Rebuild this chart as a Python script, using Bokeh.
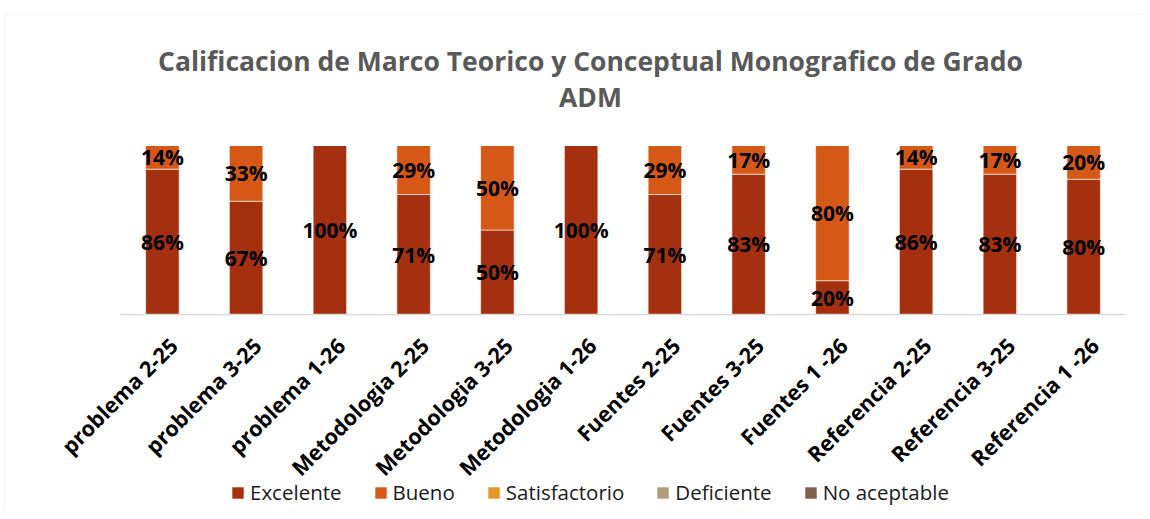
import math
from bokeh.plotting import figure
from bokeh.models import (ColumnDataSource, Legend, LegendItem, Range1d, Label, BoxAnnotation)
from bokeh.core.properties import value
from bokeh.embed import file_html
from bokeh.resources import INLINE

# ---------------- data ----------------
categories = ["problema 2-25", "problema 3-25", "problema 1-26",
              "Metodologia 2-25", "Metodologia 3-25", "Metodologia 1-26",
              "Fuentes 2-25", "Fuentes 3-25", "Fuentes 1 -26",
              "Referencia 2-25", "Referencia 3-25", "Referencia 1 -26"]
series = ["Excelente", "Bueno", "Satisfactorio", "Deficiente", "No aceptable"]
excelente = [86, 67, 100, 71, 50, 100, 71, 83, 20, 86, 83, 80]
bueno = [14, 33, 0, 29, 50, 0, 29, 17, 80, 14, 17, 20]
satisfactorio = [0, 0, 0, 0, 0, 0, 0, 0, 0, 0, 0, 0]
deficiente = [0, 0, 0, 0, 0, 0, 0, 0, 0, 0, 0, 0]
no_aceptable = [0, 0, 0, 0, 0, 0, 0, 0, 0, 0, 0, 0]
colors = ["#A5300F", "#D55816", "#E19825", "#B19C7D", "#7F5F52"]
title_lines = ["Calificacion de Marco Teorico y Conceptual Monografico de Grado", "ADM"]

values_by_series = [excelente, bueno, satisfactorio, deficiente, no_aceptable]

FONT = "Open Sans"
W, H = 1142, 511
# plot area (in canvas pixels)
PX0, PX1 = 120, 1125      # category band
PY_TOP, PY_ZERO = 145, 314  # 100 % and 0 %
n = len(categories)
px_per_cat = (PX1 - PX0) / n
px_per_pct = (PY_ZERO - PY_TOP) / 100.0

x_start = -PX0 / px_per_cat
x_end = x_start + W / px_per_cat
y_start = -(H - PY_ZERO) / px_per_pct
y_end = 100 + PY_TOP / px_per_pct

p = figure(width=W, height=H,
           x_range=Range1d(x_start, x_end), y_range=Range1d(y_start, y_end),
           x_axis_location=None, y_axis_location=None,
           output_backend="svg", toolbar_location=None,
           min_border=0)
p.xgrid.visible = False
p.ygrid.visible = False
p.outline_line_color = None

xs = [i + 0.5 for i in range(n)]
src = ColumnDataSource(dict(x=xs, cat=categories,
                            **{s: v for s, v in zip(series, values_by_series)}))
rends = p.vbar_stack(series, x="x", width=0.4, color=colors, source=src,
                     line_color="white", line_width=0.6)

# axis line
p.segment(x0=[0], x1=[n], y0=[0], y1=[0], line_color="#D9D9D9", line_width=1.5)

# category labels (rotated 45 degrees)
p.text(x="x", y=0, text="cat", source=src, angle=math.pi / 4,
       text_font=value(FONT), text_font_style="bold", text_font_size="21.5px",
       text_color="black", text_align="right", text_baseline="middle",
       x_offset=11, y_offset=27)

# data labels
lx, ly, lt = [], [], []
for i in range(n):
    base = 0
    for vals in values_by_series:
        v = vals[i]
        if v > 0:
            lx.append(xs[i])
            ly.append(base + v / 2)
            lt.append(f"{v}%")
        base += v
p.text(x=lx, y=ly, text=lt, text_font=value(FONT), text_font_style="bold",
       text_font_size="21px", text_align="center", text_baseline="middle",
       text_color="black")

# title
for txt, base_y in zip(title_lines, [60.5, 96]):
    p.add_layout(Label(x=590, y=H - base_y, x_units="screen", y_units="screen",
                       text=txt, text_font=FONT, text_font_style="bold",
                       text_font_size="26.5px", text_color="#595959",
                       text_align="center", text_baseline="alphabetic"))

# legend
items = [LegendItem(label=s, renderers=[r]) for s, r in zip(series, rends)]
legend = Legend(items=items, location=(230, 5), orientation="horizontal",
                glyph_width=15, glyph_height=15, label_standoff=5, spacing=31,
                padding=0, margin=0, border_line_color=None, background_fill_alpha=0,
                label_text_font=FONT, label_text_font_size="20.5px",
                label_text_color="#1a1a1a")
p.add_layout(legend, "center")

# chart border
p.add_layout(BoxAnnotation(left=4, right=W + 50, top=H - 14, bottom=-50,
                           left_units="screen", right_units="screen",
                           top_units="screen", bottom_units="screen",
                           fill_alpha=0, line_color="#D9D9D9", line_width=1))

open("out.html", "w").write(file_html(p, INLINE))
